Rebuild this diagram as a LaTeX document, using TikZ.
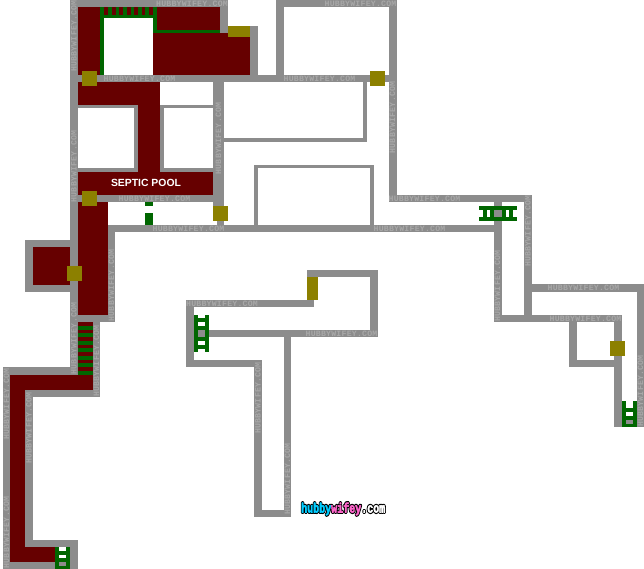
\documentclass[tikz,border=0pt]{standalone}
\usepackage{fontspec}
\setmainfont{Liberation Sans}
\newfontfamily\wmfont[LetterSpace=2.7]{Liberation Mono Bold}
\newfontfamily\logofont{Liberation Mono Bold}
\definecolor{wallgray}{HTML}{8C8C8C}
\definecolor{wmgray}{HTML}{A8A8A8}
\definecolor{poolred}{HTML}{660000}
\definecolor{laddergreen}{HTML}{006600}
\definecolor{dooroliv}{HTML}{8C8000}
\definecolor{logocyan}{HTML}{00CCFF}
\definecolor{logopink}{HTML}{FF66CC}
\tikzset{
  wall/.style={fill=wallgray},
  floorred/.style={fill=poolred},
  lad/.style={fill=laddergreen},
  doorpatch/.style={fill=dooroliv},
  wmark/.style={inner sep=0pt,text=wmgray,font=\wmfont\fontsize{8.2}{8.2}\selectfont},
  logotext/.style={inner sep=0pt,anchor=base west,font=\logofont\fontsize{10}{10}\selectfont},
}
\newcommand{\Rc}[5]{\fill[#1] (#2,#3) rectangle (#4,#5);}
\newcommand{\WH}[2]{\node[wmark] at (#1,#2) {HUBBYWIFEY.COM};}
\newcommand{\WV}[2]{\node[wmark,rotate=90] at (#1,#2) {HUBBYWIFEY.COM};}
\begin{document}
\begin{tikzpicture}[x=1pt,y=-1pt]
\useasboundingbox (0,0) rectangle (644,569);
\fill[white] (0,0) rectangle (644,569);
% red floors
\Rc{floorred}{78}{7}{100}{75}
\Rc{floorred}{104}{7}{153}{15}
\Rc{floorred}{157}{7}{220}{30}
\Rc{floorred}{153}{33}{250}{75}
\Rc{floorred}{78}{82}{160}{105}
\Rc{floorred}{138}{105}{160}{172}
\Rc{floorred}{78}{172}{213}{195}
\Rc{floorred}{78}{202}{108}{315}
\Rc{floorred}{33}{247}{70}{285}
\Rc{floorred}{78}{322}{93}{375}
\Rc{floorred}{10}{375}{93}{390}
\Rc{floorred}{10}{390}{25}{562}
\Rc{floorred}{25}{547}{55}{562}
% walls, upper block
\Rc{wall}{70}{0}{228}{7}
\Rc{wall}{70}{0}{78}{375}
\Rc{wall}{220}{0}{228}{33}
\Rc{wall}{250}{26}{258}{82}
\Rc{wall}{228}{26}{258}{33}
\Rc{wall}{70}{75}{397}{82}
\Rc{wall}{276}{0}{284}{82}
\Rc{wall}{276}{0}{397}{7}
\Rc{wall}{389}{0}{397}{202}
\Rc{wall}{389}{195}{532}{202}
\Rc{wall}{78}{105}{138}{108}
\Rc{wall}{134}{105}{138}{172}
\Rc{wall}{78}{168}{138}{172}
\Rc{wall}{160}{105}{213}{108}
\Rc{wall}{160}{105}{164}{172}
\Rc{wall}{160}{168}{213}{172}
\Rc{wall}{213}{75}{224}{206}
\Rc{wall}{217}{206}{224}{225}
\Rc{wall}{70}{195}{224}{202}
\Rc{wall}{363}{82}{367}{142}
\Rc{wall}{224}{138}{367}{142}
\Rc{wall}{254}{165}{374}{168}
\Rc{wall}{254}{165}{258}{225}
\Rc{wall}{370}{165}{374}{225}
\Rc{wall}{108}{225}{502}{232}
\Rc{wall}{108}{225}{115}{322}
% walls, left side
\Rc{wall}{25}{240}{70}{247}
\Rc{wall}{25}{240}{33}{292}
\Rc{wall}{25}{285}{70}{292}
\Rc{wall}{70}{315}{115}{322}
\Rc{wall}{93}{322}{100}{397}
\Rc{wall}{3}{367}{78}{375}
\Rc{wall}{3}{367}{10}{569}
\Rc{wall}{25}{390}{100}{397}
\Rc{wall}{25}{390}{33}{547}
\Rc{wall}{25}{540}{78}{547}
\Rc{wall}{70}{540}{78}{569}
\Rc{wall}{3}{562}{78}{569}
% walls, right side
\Rc{wall}{494}{195}{502}{322}
\Rc{wall}{524}{195}{532}{322}
\Rc{wall}{494}{315}{622}{322}
\Rc{wall}{524}{284}{644}{292}
\Rc{wall}{637}{284}{644}{427}
\Rc{wall}{569}{315}{577}{367}
\Rc{wall}{569}{360}{622}{367}
\Rc{wall}{614}{315}{622}{427}
% walls, centre
\Rc{wall}{307}{270}{378}{277}
\Rc{wall}{370}{270}{378}{337}
\Rc{wall}{194}{330}{378}{337}
\Rc{wall}{186}{300}{314}{307}
\Rc{wall}{186}{300}{194}{367}
\Rc{wall}{186}{360}{262}{367}
\Rc{wall}{254}{360}{262}{517}
\Rc{wall}{284}{337}{291}{517}
\Rc{wall}{254}{510}{291}{517}
% green, top room
\Rc{lad}{100}{7}{104}{75}
\Rc{lad}{100}{15}{157}{18}
\Rc{lad}{153}{7}{157}{33}
\Rc{lad}{157}{30}{220}{33}
\foreach \bx in {108,115.7,123.3,130.7,138.3,145.3}{\Rc{lad}{\bx}{7}{\bx+3.7}{15}}
% green, corridor marks
\Rc{lad}{145}{202}{153}{206}
\Rc{lad}{145}{213}{153}{225}
% green, stair rungs
\foreach \ry in {326,333,341,348,356,363,371}{\Rc{lad}{78}{\ry}{93}{\ry+4}}
% ladder bottom left
\Rc{lad}{55}{547}{59}{569}
\Rc{lad}{66}{547}{70}{569}
\foreach \ry in {551,558}{\Rc{lad}{55}{\ry}{70}{\ry+4}}
\Rc{lad}{55}{566}{70}{569}
\Rc{wall}{59}{562}{66}{566}
% ladder centre
\Rc{lad}{194}{315}{198}{352}
\Rc{lad}{205}{315}{209}{352}
\foreach \ry in {318,326,337,345}{\Rc{lad}{194}{\ry}{209}{\ry+4}}
% ladder top right
\Rc{lad}{479}{206}{517}{210}
\Rc{lad}{479}{217}{517}{221}
\foreach \rx in {483,490,502,509}{\Rc{lad}{\rx}{206}{\rx+4}{221}}
% ladder far right
\Rc{lad}{622}{401}{626}{427}
\Rc{lad}{633}{401}{637}{427}
\Rc{lad}{622}{408}{637}{412}
\Rc{lad}{622}{416}{637}{420}
\Rc{lad}{622}{424}{637}{427}
\Rc{wall}{626}{420}{633}{424}
% watermarks
\WH{192}{3.5}
\WH{139.5}{78.5}
\WH{154.5}{198.5}
\WH{188.5}{228.5}
\WH{360.5}{3.5}
\WH{319.5}{78.5}
\WH{409.5}{228.5}
\WH{424.5}{198.5}
\WH{583.5}{288}
\WH{585.5}{318.5}
\WH{222}{303.5}
\WH{341.5}{333.5}
\WV{74}{36}
\WV{74}{166.5}
\WV{74}{338.5}
\WV{218.5}{138.5}
\WV{111.5}{285.5}
\WV{96.5}{361}
\WV{6.5}{404}
\WV{6.5}{532.5}
\WV{29}{428}
\WV{528}{231}
\WV{497.5}{286}
\WV{640.5}{391}
\WV{392.5}{117.5}
\WV{258}{398}
\WV{287.5}{479}
% doors
\Rc{doorpatch}{228}{26}{250}{37}
\Rc{doorpatch}{82}{71}{97}{86}
\Rc{doorpatch}{370}{71}{385}{86}
\Rc{doorpatch}{82}{191}{97}{206}
\Rc{doorpatch}{213}{206}{228}{221}
\Rc{doorpatch}{67}{266}{82}{281}
\Rc{doorpatch}{307}{277}{318}{300}
\Rc{doorpatch}{610}{341}{625}{356}
% labels
\node[text=white,inner sep=0pt,font=\bfseries\fontsize{10.4}{10.4}\selectfont] (septic) at (146,183) {SEPTIC POOL};
\node[logotext] (logoback) at (301,512.5) {\scalebox{1}[1.35]{\special{pdf:code 2 Tr 0 0 0 RG 2.2 w 1 j 1 J}hubbywifey.com\special{pdf:code 0 Tr 0.4 w 0 j 0 J}}};
\node[logotext] (logofront) at (301,512.5) {\scalebox{1}[1.35]{\special{pdf:code 2 Tr 0.4 w 1 j 1 J}\textcolor{logocyan}{\special{pdf:code 0 0.8 1 RG}hubby}\textcolor{logopink}{\special{pdf:code 1 0.4 0.8 RG}wifey}\textcolor{white}{\special{pdf:code 1 1 1 RG}.com}\special{pdf:code 0 Tr 0.4 w 0 j 0 J}}};
\end{tikzpicture}
\end{document}
